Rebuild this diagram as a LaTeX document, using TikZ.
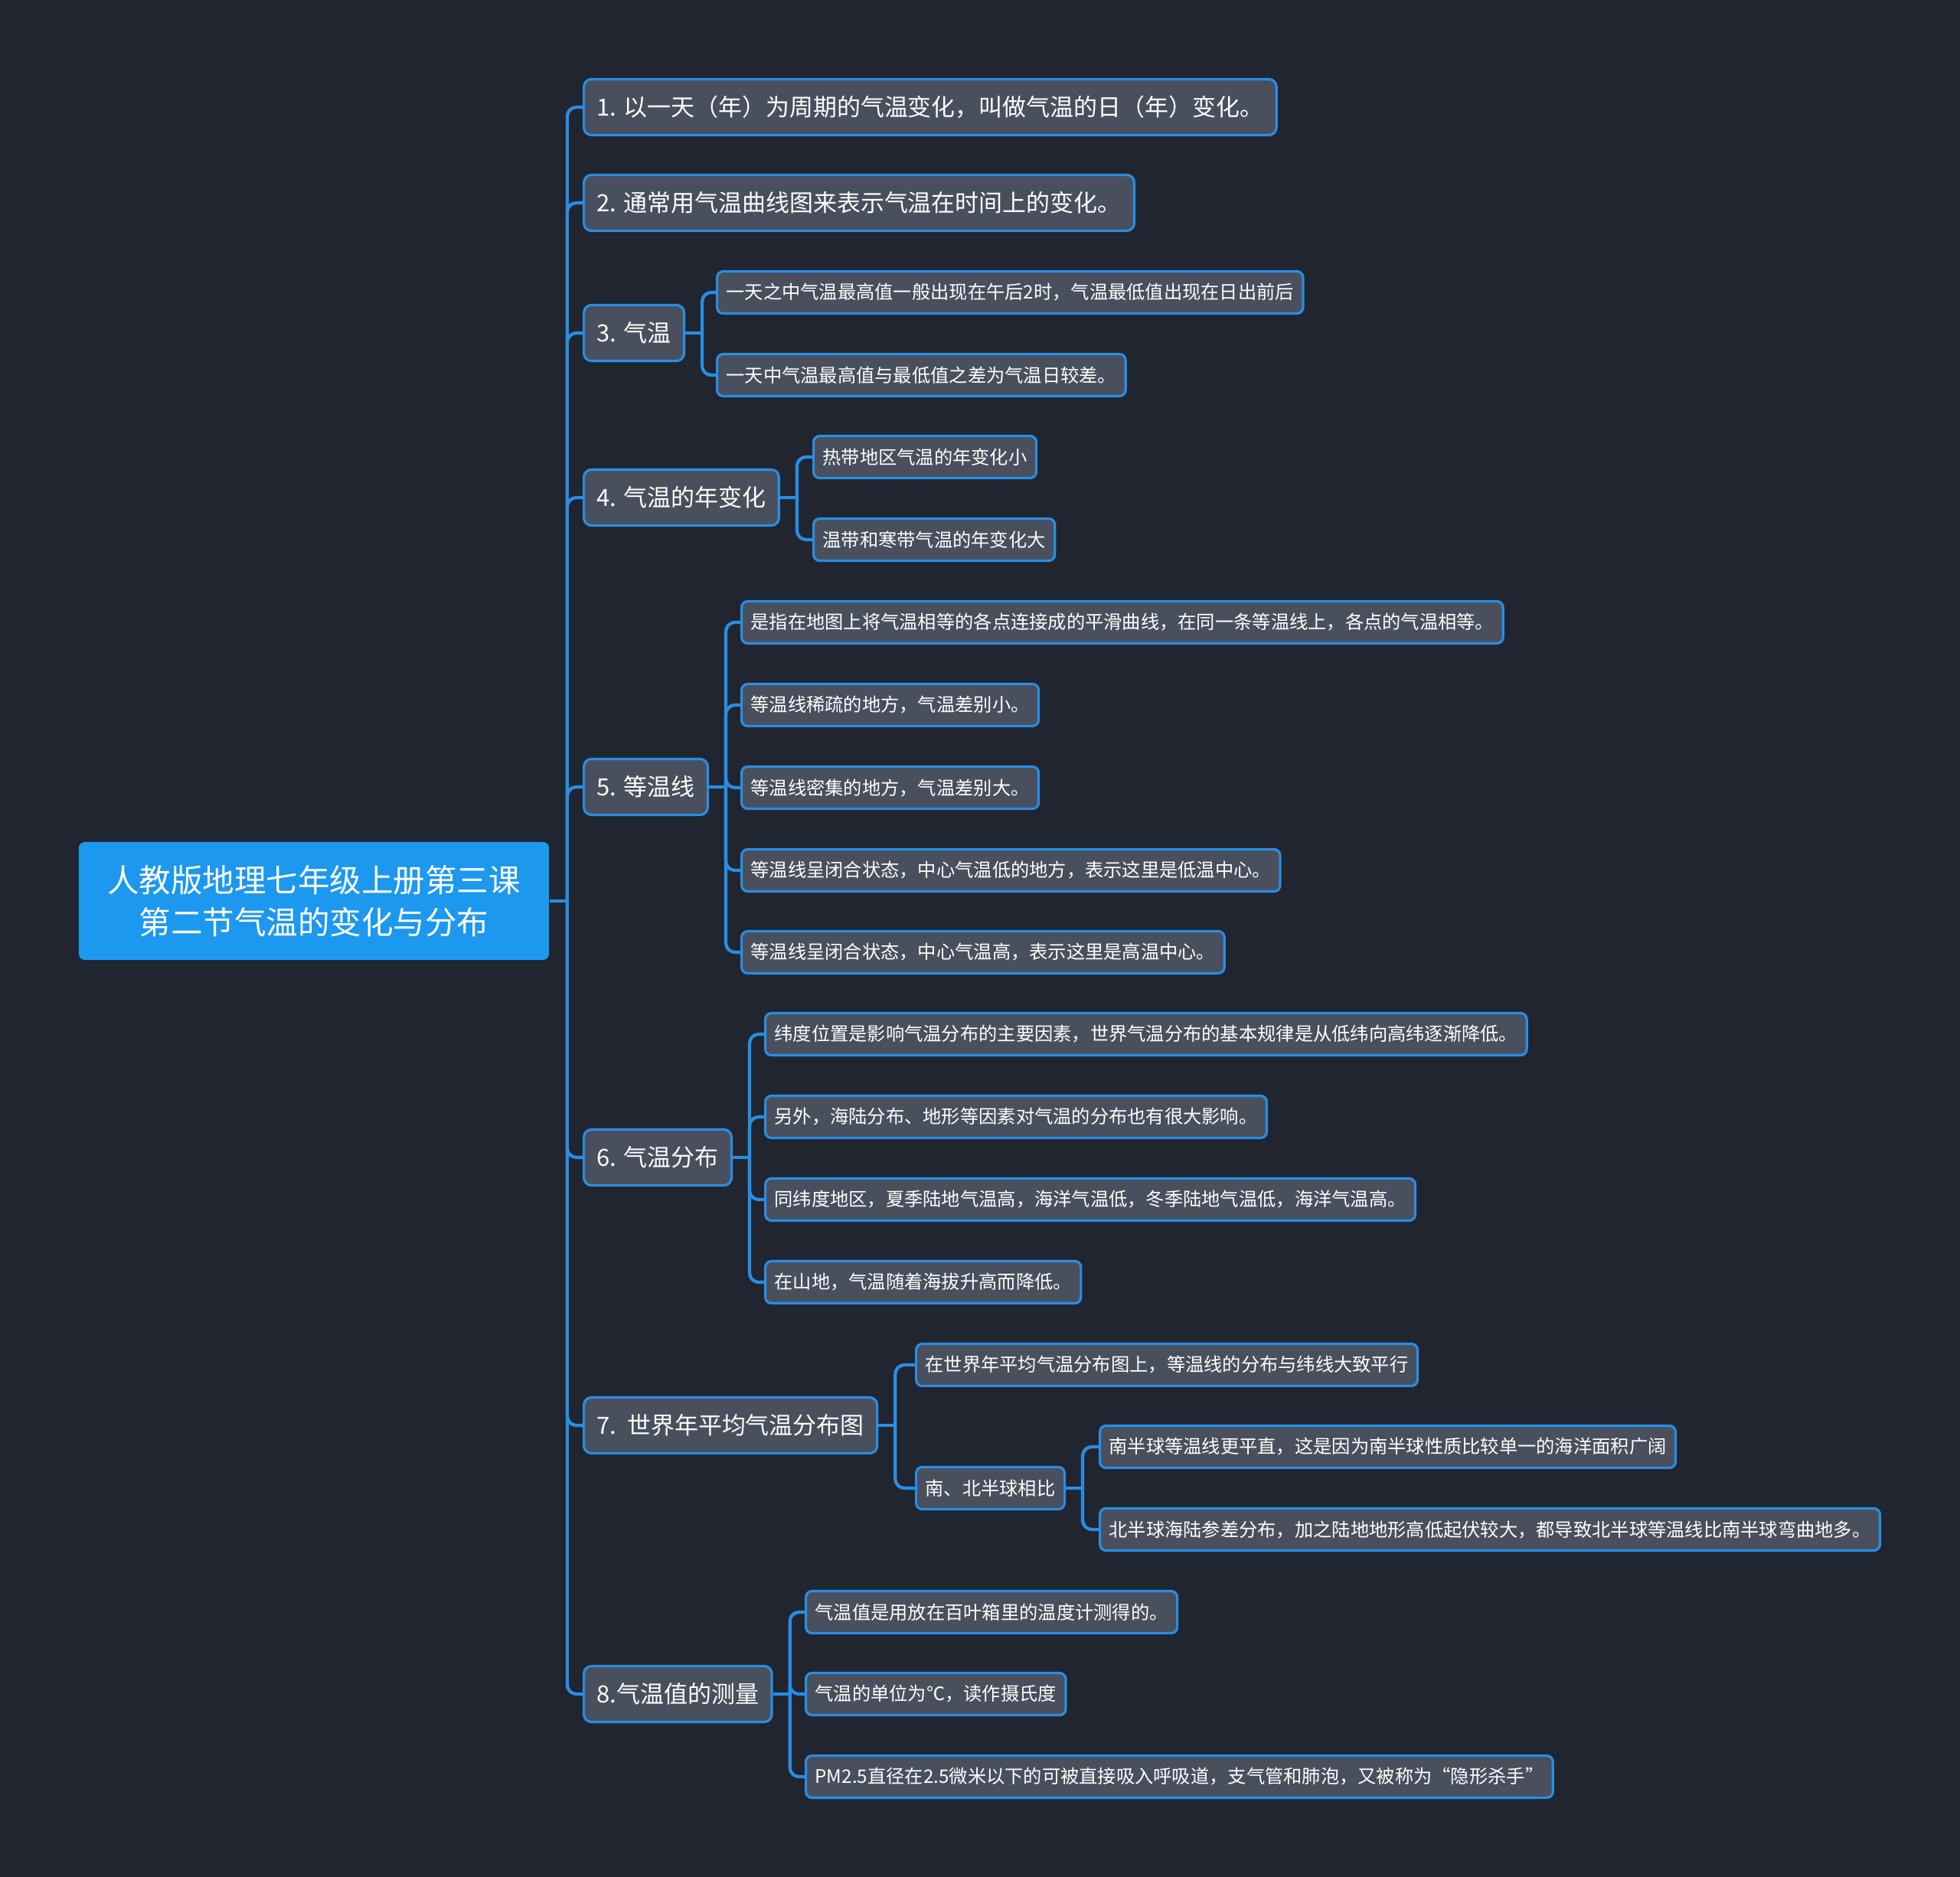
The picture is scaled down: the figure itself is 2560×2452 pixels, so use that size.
\documentclass[tikz,border=0pt]{standalone}
\usepackage{fontspec}
\setmainfont{Noto Sans CJK SC}
\usetikzlibrary{calc, positioning}
\definecolor{bgdark}{RGB}{33,37,48}
\definecolor{boxfill}{RGB}{73,79,93}
\definecolor{linkblue}{RGB}{40,142,228}
\definecolor{rootblue}{RGB}{28,152,238}

\begin{document}
\begin{tikzpicture}[x=0.01cm,y=-0.01cm,
  root/.style={fill=rootblue, rounded corners=0.08cm, text=white, align=center, minimum width=6.14cm, minimum height=1.54cm, font=\fontsize{11.8}{15.8}\selectfont},
  topic/.style={draw=linkblue, line width=0.9pt, fill=boxfill, rounded corners=0.1cm, text=white, anchor=west, minimum height=0.73cm, inner xsep=0.17cm, inner ysep=0pt, font=\fontsize{8.8}{10}\selectfont},
  leaf/.style={topic, rounded corners=0.08cm, minimum height=0.55cm, inner xsep=0.12cm, font=\fontsize{6.9}{8}\selectfont},
  link/.style={draw=linkblue, line width=1.2pt, rounded corners=0.12cm}]
\fill[bgdark] (0,0) rectangle (2560,2452);
\useasboundingbox (0,0) rectangle (2560,2452);
% root
\node[root] (root) at (410,1177) {人教版地理七年级上册第三课\\第二节气温的变化与分布};
% main topics
\node[topic] (n1) at (761,140) {1. 以一天（年）为周期的气温变化，叫做气温的日（年）变化。};
\node[topic] (n2) at (761,265) {2. 通常用气温曲线图来表示气温在时间上的变化。};
\node[topic] (n3) at (761,435) {3. 气温};
\node[topic] (n4) at (761,650) {4. 气温的年变化};
\node[topic] (n5) at (761,1028) {5. 等温线};
\node[topic] (n6) at (761,1512) {6. 气温分布};
\node[topic] (n7) at (761,1862) {7.\ \ 世界年平均气温分布图};
\node[topic] (n8) at (761,2213) {8.气温值的测量};
% details
\node[leaf] (n3a) at (935,382) {一天之中气温最高值一般出现在午后2时，气温最低值出现在日出前后};
\node[leaf] (n3b) at (935,490) {一天中气温最高值与最低值之差为气温日较差。};
\node[leaf] (n4a) at (1061,597) {热带地区气温的年变化小};
\node[leaf] (n4b) at (1061,705) {温带和寒带气温的年变化大};
\node[leaf] (n5a) at (967,813) {是指在地图上将气温相等的各点连接成的平滑曲线，在同一条等温线上，各点的气温相等。};
\node[leaf] (n5b) at (967,921) {等温线稀疏的地方，气温差别小。};
\node[leaf] (n5c) at (967,1029) {等温线密集的地方，气温差别大。};
\node[leaf] (n5d) at (967,1137) {等温线呈闭合状态，中心气温低的地方，表示这里是低温中心。};
\node[leaf] (n5e) at (967,1244) {等温线呈闭合状态，中心气温高，表示这里是高温中心。};
\node[leaf] (n6a) at (998,1351) {纬度位置是影响气温分布的主要因素，世界气温分布的基本规律是从低纬向高纬逐渐降低。};
\node[leaf] (n6b) at (998,1459) {另外，海陆分布、地形等因素对气温的分布也有很大影响。};
\node[leaf] (n6c) at (998,1567) {同纬度地区，夏季陆地气温高，海洋气温低，冬季陆地气温低，海洋气温高。};
\node[leaf] (n6d) at (998,1675) {在山地，气温随着海拔升高而降低。};
\node[leaf] (n7a) at (1195,1783) {在世界年平均气温分布图上，等温线的分布与纬线大致平行};
\node[leaf] (n7b) at (1195,1944) {南、北半球相比};
\node[leaf] (n7c) at (1435,1890) {南半球等温线更平直，这是因为南半球性质比较单一的海洋面积广阔};
\node[leaf] (n7d) at (1435,1998) {北半球海陆参差分布，加之陆地地形高低起伏较大，都导致北半球等温线比南半球弯曲地多。};
\node[leaf] (n8a) at (1051,2106) {气温值是用放在百叶箱里的温度计测得的。};
\node[leaf] (n8b) at (1051,2213) {气温的单位为℃，读作摄氏度};
\node[leaf] (n8c) at (1051,2321) {PM2.5直径在2.5微米以下的可被直接吸入呼吸道，支气管和肺泡，又被称为“隐形杀手”};
% connectors
\draw[link] (root.east) -- ($(root.east)+(23,0)$) coordinate (b0);
\foreach \c in {n1,n2,n3,n4,n5,n6,n7,n8}
  \draw[link] (b0) |- (\c.west);
\draw[link] (n3.east) -- ($(n3.east)+(22,0)$) coordinate (b3);
\foreach \c in {n3a,n3b}
  \draw[link] (b3) |- (\c.west);
\draw[link] (n4.east) -- ($(n4.east)+(22,0)$) coordinate (b4);
\foreach \c in {n4a,n4b}
  \draw[link] (b4) |- (\c.west);
\draw[link] (n5.east) -- ($(n5.east)+(22,0)$) coordinate (b5);
\foreach \c in {n5a,n5b,n5c,n5d,n5e}
  \draw[link] (b5) |- (\c.west);
\draw[link] (n6.east) -- ($(n6.east)+(22,0)$) coordinate (b6);
\foreach \c in {n6a,n6b,n6c,n6d}
  \draw[link] (b6) |- (\c.west);
\draw[link] (n7.east) -- ($(n7.east)+(22,0)$) coordinate (b7);
\foreach \c in {n7a,n7b}
  \draw[link] (b7) |- (\c.west);
\draw[link] (n7b.east) -- ($(n7b.east)+(22,0)$) coordinate (b7b);
\foreach \c in {n7c,n7d}
  \draw[link] (b7b) |- (\c.west);
\draw[link] (n8.east) -- ($(n8.east)+(22,0)$) coordinate (b8);
\foreach \c in {n8a,n8b,n8c}
  \draw[link] (b8) |- (\c.west);
\end{tikzpicture}
\end{document}
